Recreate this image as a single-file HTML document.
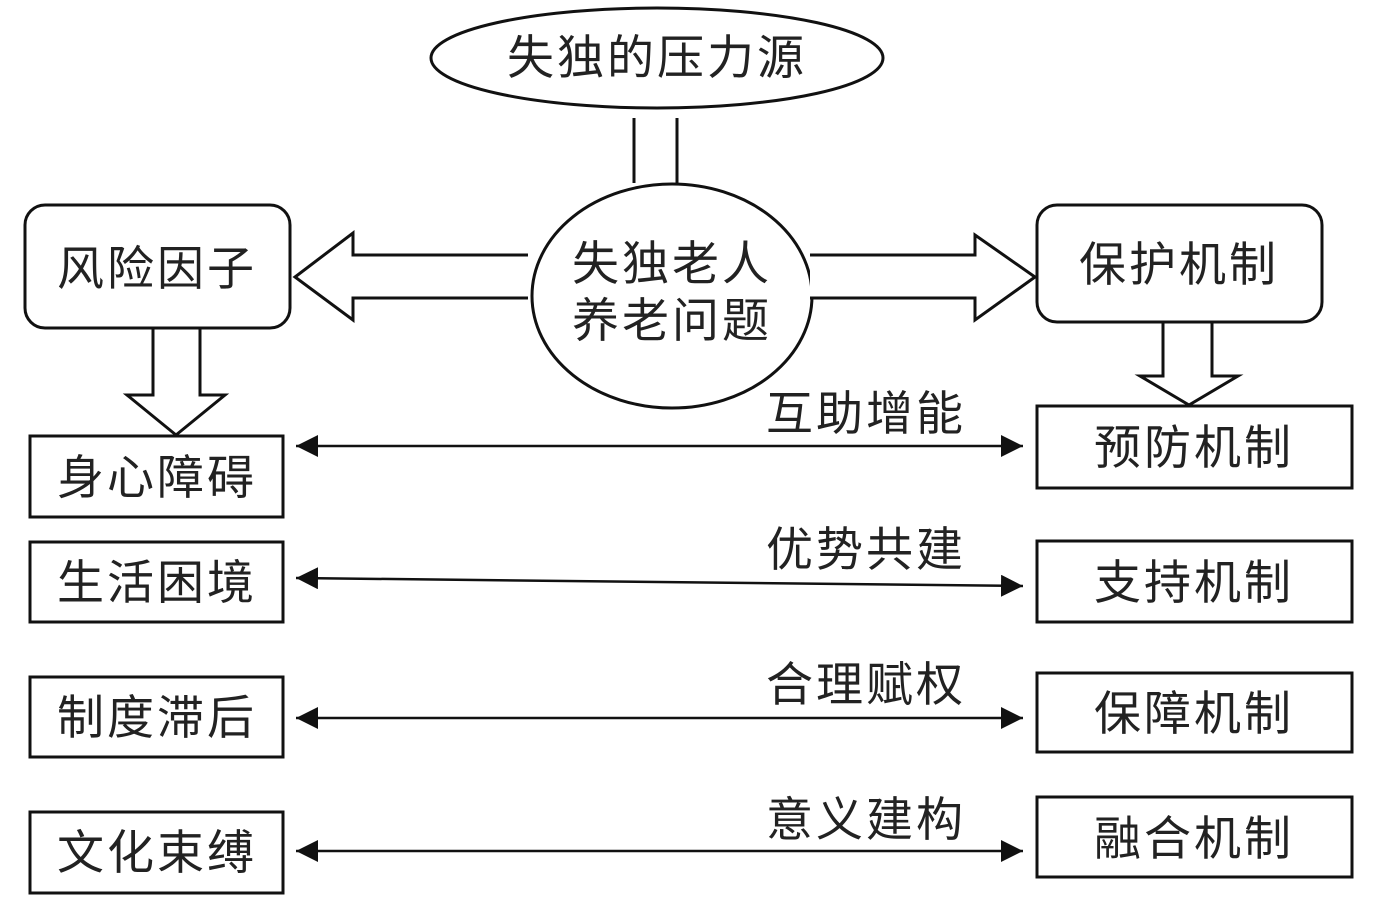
<!DOCTYPE html>
<html><head><meta charset="utf-8"><style>
html,body{margin:0;padding:0;background:#fff}
svg text{font-family:"Liberation Sans","Noto Sans CJK SC",sans-serif;font-size:47px;fill:#222;letter-spacing:3px}
</style></head><body>
<svg width="1378" height="896" viewBox="0 0 1378 896" xmlns="http://www.w3.org/2000/svg">
<defs>
<marker id="ah" markerWidth="24" markerHeight="22" refX="22" refY="11" orient="auto-start-reverse" markerUnits="userSpaceOnUse">
<path d="M0,0 L22,11 L0,22 Z" fill="#111"/></marker>
</defs>
<g fill="none" stroke="#111" stroke-width="3">
<ellipse cx="657" cy="58" rx="226" ry="50"/>
<line x1="634" y1="118" x2="634" y2="183"/>
<line x1="677" y1="118" x2="677" y2="183"/>
<ellipse cx="672" cy="296" rx="140" ry="112" fill="#fff"/>
<rect x="25" y="205" width="265" height="123" rx="20"/>
<rect x="1037" y="205" width="285" height="117" rx="20"/>
<path d="M528,255 L353,255 L353,233 L295,277 L353,320 L353,298 L528,298" fill="#fff"/>
<path d="M810,255 L975,255 L975,235 L1035,277 L975,320 L975,298 L810,298" fill="#fff"/>
<path d="M153,328 L153,395 L127,395 L176,435 L225,395 L200,395 L200,328"/>
<path d="M1163,322 L1163,376 L1140,376 L1189,405 L1238,376 L1212,376 L1212,322"/>
<rect x="30" y="436" width="253" height="81"/>
<rect x="30" y="542" width="253" height="80"/>
<rect x="30" y="677" width="253" height="80"/>
<rect x="30" y="812" width="253" height="81"/>
<rect x="1037" y="406" width="315" height="82"/>
<rect x="1037" y="541" width="315" height="81"/>
<rect x="1037" y="673" width="315" height="79"/>
<rect x="1037" y="797" width="315" height="80"/>
<g stroke-width="2.5" marker-start="url(#ah)" marker-end="url(#ah)">
<line x1="296" y1="446" x2="1023" y2="446"/>
<line x1="296" y1="578" x2="1023" y2="586"/>
<line x1="296" y1="718" x2="1023" y2="718"/>
<line x1="296" y1="851" x2="1023" y2="851"/>
</g>
</g>
<text x="657" y="74" text-anchor="middle">失独的压力源</text>
<text x="672" y="280" text-anchor="middle">失独老人</text>
<text x="672" y="337" text-anchor="middle">养老问题</text>
<text x="157" y="285" text-anchor="middle">风险因子</text>
<text x="1179" y="281" text-anchor="middle">保护机制</text>
<text x="157" y="494" text-anchor="middle">身心障碍</text>
<text x="157" y="599" text-anchor="middle">生活困境</text>
<text x="157" y="734" text-anchor="middle">制度滞后</text>
<text x="157" y="869" text-anchor="middle">文化束缚</text>
<text x="1194" y="464" text-anchor="middle">预防机制</text>
<text x="1194" y="599" text-anchor="middle">支持机制</text>
<text x="1194" y="730" text-anchor="middle">保障机制</text>
<text x="1194" y="855" text-anchor="middle">融合机制</text>
<text x="866" y="430" text-anchor="middle">互助增能</text>
<text x="866" y="566" text-anchor="middle">优势共建</text>
<text x="866" y="701" text-anchor="middle">合理赋权</text>
<text x="866" y="836" text-anchor="middle">意义建构</text>
</svg>
</body></html>
